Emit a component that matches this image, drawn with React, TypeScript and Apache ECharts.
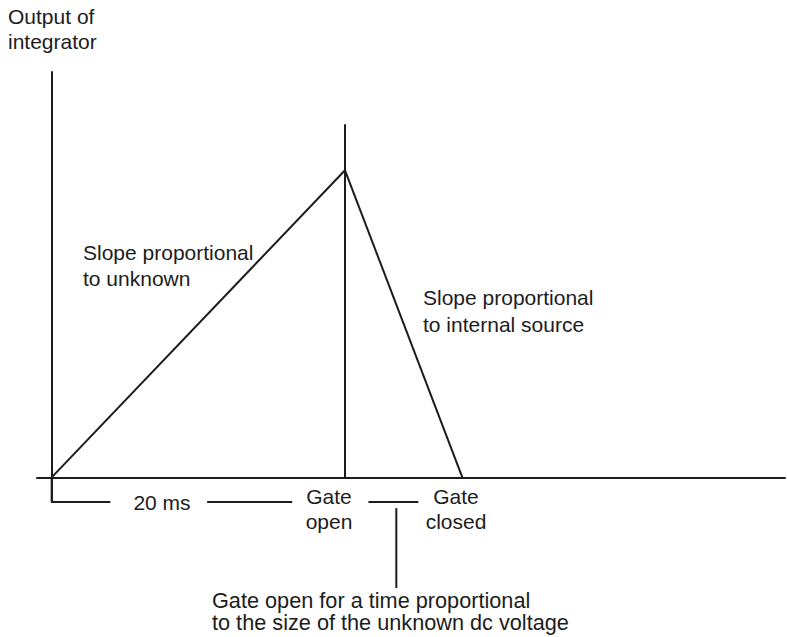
import React, { useEffect, useRef } from "react";
import * as echarts from "echarts";

// Time axis in ms, output in arbitrary units
const timeRange = [-1, 50];
const outputRange = [-8, 132];

const rampUp = [[0, 0], [20, 100]];
const rampDown = [[20, 100], [28, 0]];
const gateOpenMarker = [[20, 0], [20, 115]];
const bracketSegments = [
  [[0, 0], [0, -8], [4, -8]],
  [[10.6, -8], [16.4, -8]],
  [[21.6, -8], [25, -8]],
];
const gatePointer = [[23.5, -10], [23.5, -36]];

const labelTexts = {
  yTitle: "Output of\nintegrator",
  slopeUp: "Slope proportional\nto unknown",
  slopeDown: "Slope proportional\nto internal source",
  span: "20 ms",
  gateOpen: "Gate\nopen",
  gateClosed: "Gate\nclosed",
  note: "Gate open for a time proportional\nto the size of the unknown dc voltage",
};

const INK = "#1c1c1c";
const FONT = "Liberation Sans, Arial, Helvetica, sans-serif";

function lineSeries(data: number[][]) {
  return {
    type: "line",
    data,
    showSymbol: false,
    symbol: "none",
    clip: false,
    lineStyle: { color: INK, width: 2 },
    silent: true,
  };
}

function txt(text: string, x: number, y: number, align: string, vAlign: string, lineHeight = 25, fontSize = 21) {
  return {
    type: "text",
    x,
    y,
    silent: true,
    style: {
      text,
      fill: INK,
      fontSize,
      fontFamily: FONT,
      lineHeight,
      textAlign: align,
      textVerticalAlign: vAlign,
    },
  };
}

export default function App() {
  const ref = useRef<HTMLDivElement>(null);
  useEffect(() => {
    if (!ref.current) return;
    const chart = echarts.init(ref.current, null, { renderer: "svg" });
    chart.setOption({
      animation: false,
      backgroundColor: "#ffffff",
      grid: { left: 37, right: 2, top: 72, bottom: 135 },
      xAxis: {
        type: "value",
        min: timeRange[0],
        max: timeRange[1],
        axisLine: { show: true, onZero: true, lineStyle: { color: INK, width: 2 } },
        axisTick: { show: false },
        axisLabel: { show: false },
        splitLine: { show: false },
      },
      yAxis: {
        type: "value",
        min: outputRange[0],
        max: outputRange[1],
        axisLine: { show: true, onZero: true, lineStyle: { color: INK, width: 2 } },
        axisTick: { show: false },
        axisLabel: { show: false },
        splitLine: { show: false },
      },
      series: [
        lineSeries(rampUp),
        lineSeries(rampDown),
        lineSeries(gateOpenMarker),
        ...bracketSegments.map((s) => lineSeries(s)),
        lineSeries(gatePointer),
      ],
      graphic: [
        txt(labelTexts.yTitle, 8, 4, "left", "top"),
        txt(labelTexts.slopeUp, 83, 239, "left", "top", 26),
        txt(labelTexts.slopeDown, 423, 284, "left", "top", 27),
        txt(labelTexts.span, 162, 502, "center", "middle"),
        txt(labelTexts.gateOpen, 329, 484, "center", "top"),
        txt(labelTexts.gateClosed, 456, 484, "center", "top"),
        txt(labelTexts.note, 212, 589, "left", "top", 22.5, 21.7),
      ],
    });
    return () => chart.dispose();
  }, []);
  return (
    <div
      ref={ref}
      style={{ position: "absolute", left: 0, top: 0, width: 787, height: 637 }}
    />
  );
}
